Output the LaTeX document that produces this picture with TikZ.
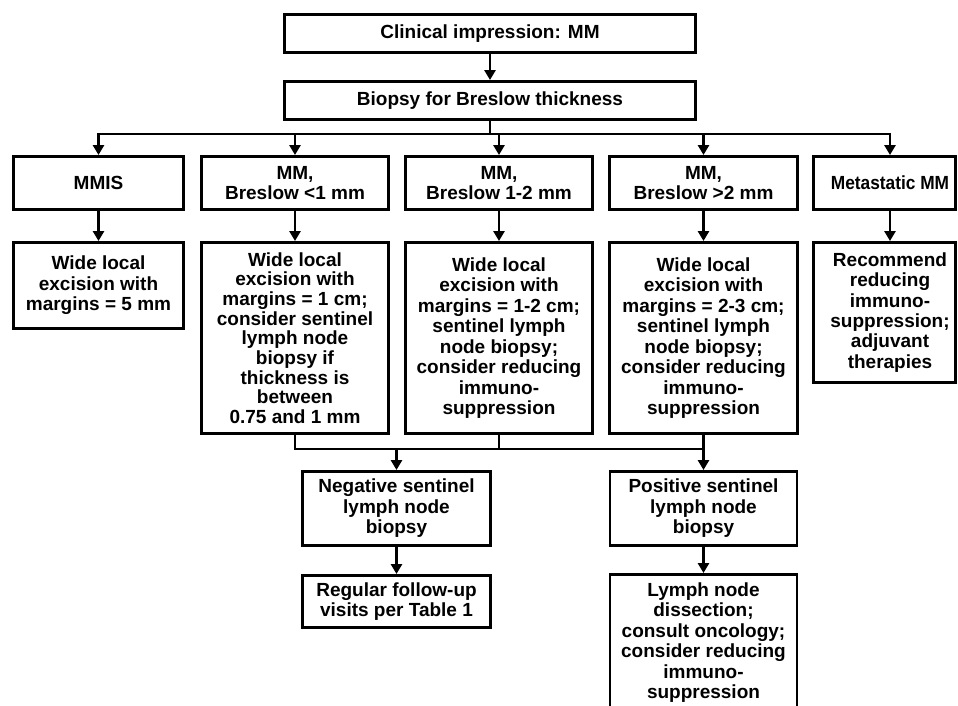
\documentclass[tikz,border=0pt]{standalone}
\usepackage{fontspec}
\usepackage{graphicx}
\setmainfont{Liberation Sans}
\usetikzlibrary{arrows.meta}
\begin{document}
\begin{tikzpicture}[x=1pt,y=-1pt,
  box/.style={draw, line width=2.9pt, rectangle, inner sep=0pt, align=center,
    font=\bfseries\fontsize{19}{20.5}\selectfont},
  txt/.style={inner sep=0pt, align=center, font=\bfseries\fontsize{19}{20.3}\selectfont},
  ln/.style={line width=2.9pt},
  arr/.style={line width=2.9pt, -{Triangle[width=11pt,length=10pt]}}]
\useasboundingbox (0,0) rectangle (958,705);

% top
\node[box, minimum width=411pt, minimum height=38pt] (clin) at (490,33.5) {Clinical impression: MM};
\node[box, minimum width=411pt, minimum height=38pt] (biop) at (490,100.5) {Biopsy for Breslow thickness};

% row 1
\node[box, minimum width=170pt, minimum height=53pt] (mmis) at (98.5,183) {MMIS};
\node[box, minimum width=187pt, minimum height=53pt] (lt1) at (295,183) {MM,\\Breslow {<}1 mm};
\node[box, minimum width=187pt, minimum height=53pt] (b12) at (499,183) {MM,\\Breslow 1-2 mm};
\node[box, minimum width=188pt, minimum height=53pt] (gt2) at (703.5,183) {MM,\\Breslow {>}2 mm};
\node[box, minimum width=142pt, minimum height=53pt] (meta) at (884.5,183) {};
\node[txt] (metat) at (890,183) {\scalebox{0.91}[1]{Metastatic MM}};

% row 2
\node[box, minimum width=170pt, minimum height=86pt] (mmisb) at (98.5,285.5) {Wide local\\excision with\\margins = 5 mm};
\node[box, minimum width=187pt, minimum height=191pt, font=\bfseries\fontsize{19}{19.7}\selectfont] (lt1b) at (295,338)
  {Wide local\\excision with\\margins = 1 cm;\\consider sentinel\\lymph node\\biopsy if\\thickness is\\between\\0.75 and 1 mm};
\node[box, minimum width=187pt, minimum height=191pt] (b12b) at (499,338)
  {Wide local\\excision with\\margins = 1-2 cm;\\sentinel lymph\\node biopsy;\\consider reducing\\immuno-\\suppression};
\node[box, minimum width=188pt, minimum height=191pt] (gt2b) at (703.5,338)
  {Wide local\\excision with\\margins = 2-3 cm;\\sentinel lymph\\node biopsy;\\consider reducing\\immuno-\\suppression};
\node[box, minimum width=142pt, minimum height=140pt] (metab) at (884.5,312.5) {};
\node[txt] (metabt) at (890,312.5) {Recommend\\reducing\\immuno-\\suppression;\\adjuvant\\therapies};

% bottom
\node[box, minimum width=188pt, minimum height=74pt] (neg) at (396.5,508.5) {Negative sentinel\\lymph node\\biopsy};
\node[box, minimum width=187pt, minimum height=74pt] (pos) at (703.5,508.5) {Positive sentinel\\lymph node\\biopsy};
\node[box, minimum width=188pt, minimum height=52pt] (reg) at (396.5,601.5) {Regular follow-up\\visits per Table 1};
\node[box, minimum width=187pt, minimum height=136pt] (lymph) at (703.5,642.5)
  {Lymph node\\dissection;\\consult oncology;\\consider reducing\\immuno-\\suppression};

\coordinate (bus1) at (490,134);
\coordinate (bus2) at (499,449);

% connectors
\draw[arr] (clin) -- (biop);
\draw[ln] (biop.south) -- (bus1);
\draw[arr] (bus1) -| (mmis.north);
\draw[arr] (bus1) -| ([xshift=5.5pt]meta.north);
\draw[arr] (lt1.north |- bus1) -- (lt1.north);
\draw[arr] (b12.north |- bus1) -- (b12.north);
\draw[arr] (gt2.north |- bus1) -- (gt2.north);

\draw[arr] (mmis) -- (mmisb);
\draw[arr] (lt1) -- (lt1b);
\draw[arr] (b12) -- (b12b);
\draw[arr] (gt2) -- (gt2b);
\draw[arr] ([xshift=5.5pt]meta.south) -- ([xshift=5.5pt]metab.north);

\draw[ln] (lt1b.south) |- (gt2b.south |- bus2);
\draw[ln] (b12b.south) -- (b12b.south |- bus2);
\draw[arr] (gt2b) -- (pos);
\draw[arr] (neg.north |- bus2) -- (neg.north);

\draw[arr] (neg) -- (reg);
\draw[arr] (pos) -- (lymph);
\end{tikzpicture}
\end{document}
